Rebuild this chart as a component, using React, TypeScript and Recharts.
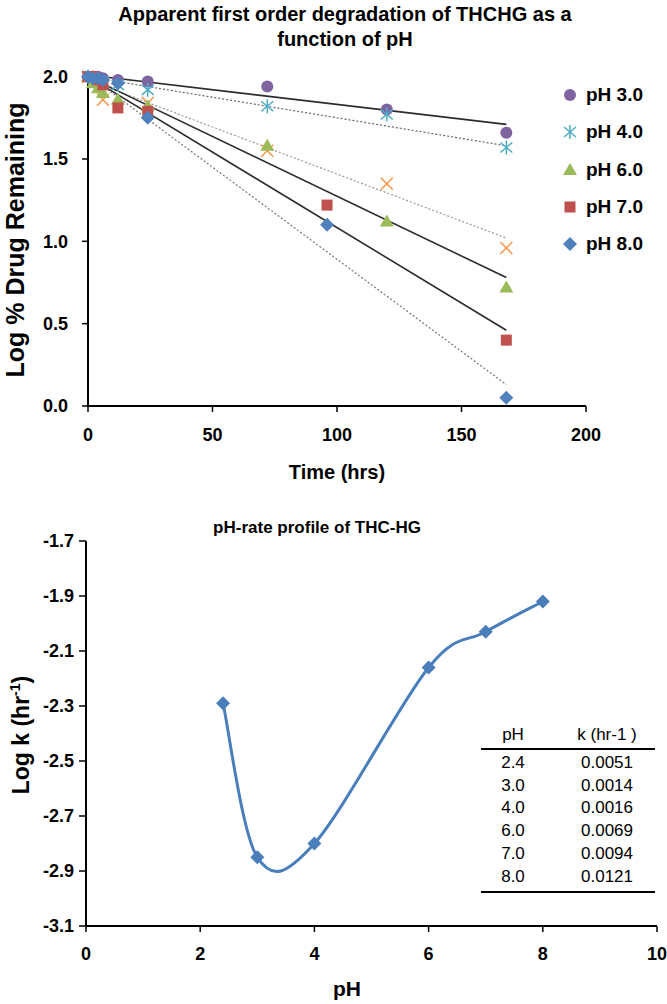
import React from 'react';
import { ComposedChart, LineChart, Line, Scatter, XAxis, YAxis } from 'recharts';

// ---- top chart: log % remaining vs time ----
const TIMES_MAIN = [0, 2, 4, 6, 12, 24, 72, 120, 168];
const TIMES_PH78 = [0, 2, 4, 6, 12, 24, 96, 168];
const TIMES_PH24 = [0, 6, 24, 72, 120, 168];

const LOG_PH24 = [2.0, 1.86, 1.84, 1.55, 1.35, 0.96];
const LOG_PH3 = [2.0, 2.0, 2.0, 1.99, 1.98, 1.97, 1.94, 1.8, 1.66];
const LOG_PH4 = [2.0, 1.99, 1.98, 1.97, 1.95, 1.92, 1.82, 1.77, 1.57];
const LOG_PH6 = [2.0, 1.96, 1.93, 1.9, 1.86, 1.82, 1.58, 1.12, 0.72];
const LOG_PH7 = [2.0, 2.0, 1.98, 1.95, 1.81, 1.79, 1.22, 0.4];
const LOG_PH8 = [2.0, 1.99, 1.99, 1.98, 1.96, 1.75, 1.1, 0.05];

// fitted first order lines, value at t=0 and t=168
const FIT_TIMES = [0, 168];
const FIT_PH3 = [2.01, 1.71];
const FIT_PH4 = [2.0, 1.58];
const FIT_PH24 = [1.98, 1.02];
const FIT_PH6 = [2.0, 0.78];
const FIT_PH7 = [2.0, 0.46];
const FIT_PH8 = [2.01, 0.13];

const TIME_TICKS = [0, 50, 100, 150, 200];
const LOG_TICKS = [0, 0.5, 1.0, 1.5, 2.0];

// ---- bottom chart: pH-rate profile ----
const PH_VALUES = [2.4, 3.0, 4.0, 6.0, 7.0, 8.0];
const LOG_K = [-2.29, -2.85, -2.8, -2.16, -2.03, -1.92];
const PH_TICKS = [0, 2, 4, 6, 8, 10];
const LOGK_TICKS = [-3.1, -2.9, -2.7, -2.5, -2.3, -2.1, -1.9, -1.7];

const TABLE_PH = ['2.4', '3.0', '4.0', '6.0', '7.0', '8.0'];
const TABLE_K = ['0.0051', '0.0014', '0.0016', '0.0069', '0.0094', '0.0121'];

const FONT = '"Liberation Sans", Arial, sans-serif';

const toPoints = (xs: number[], ys: number[]) => xs.map((t, i) => ({ t, v: ys[i] }));

const SERIES = [
  { name: 'pH 2.4', times: TIMES_PH24, values: LOG_PH24, kind: 'x', color: '#F79646', legend: false },
  { name: 'pH 3.0', times: TIMES_MAIN, values: LOG_PH3, kind: 'circle', color: '#8064A2', legend: true },
  { name: 'pH 4.0', times: TIMES_MAIN, values: LOG_PH4, kind: 'star', color: '#4BACC6', legend: true },
  { name: 'pH 6.0', times: TIMES_MAIN, values: LOG_PH6, kind: 'triangle', color: '#9BBB59', legend: true },
  { name: 'pH 7.0', times: TIMES_PH78, values: LOG_PH7, kind: 'square', color: '#C0504D', legend: true },
  { name: 'pH 8.0', times: TIMES_PH78, values: LOG_PH8, kind: 'diamond', color: '#4F81BD', legend: true },
];

const FITS = [
  { name: 'fit3', values: FIT_PH3, color: '#2b2b2b', dash: undefined },
  { name: 'fit4', values: FIT_PH4, color: '#666', dash: '2 2' },
  { name: 'fit24', values: FIT_PH24, color: '#999', dash: '2 2' },
  { name: 'fit6', values: FIT_PH6, color: '#2b2b2b', dash: undefined },
  { name: 'fit7', values: FIT_PH7, color: '#2b2b2b', dash: undefined },
  { name: 'fit8', values: FIT_PH8, color: '#777', dash: '2 2' },
];

function Marker({ kind, color, cx, cy }: { kind: string; color: string; cx: number; cy: number }) {
  switch (kind) {
    case 'circle':
      return <circle cx={cx} cy={cy} r={6} fill={color} />;
    case 'triangle':
      return <polygon points={`${cx},${cy - 7} ${cx + 7},${cy + 5} ${cx - 7},${cy + 5}`} fill={color} />;
    case 'square':
      return <rect x={cx - 5.5} y={cy - 5.5} width={11} height={11} fill={color} />;
    case 'diamond':
      return <polygon points={`${cx},${cy - 7} ${cx + 7},${cy} ${cx},${cy + 7} ${cx - 7},${cy}`} fill={color} />;
    case 'star':
      return (
        <g stroke={color} strokeWidth={1.5}>
          <line x1={cx} y1={cy - 7} x2={cx} y2={cy + 7} />
          <line x1={cx - 6} y1={cy - 5} x2={cx + 6} y2={cy + 5} />
          <line x1={cx - 6} y1={cy + 5} x2={cx + 6} y2={cy - 5} />
        </g>
      );
    default:
      return (
        <g stroke={color} strokeWidth={1.5}>
          <line x1={cx - 6} y1={cy - 6} x2={cx + 6} y2={cy + 6} />
          <line x1={cx - 6} y1={cy + 6} x2={cx + 6} y2={cy - 6} />
        </g>
      );
  }
}

// Excel-like smoothed line (bezier through points, 1/6 tangents)
const excelSmooth: any = (context: any) => {
  let pts: number[][] = [];
  return {
    areaStart() {},
    areaEnd() {},
    lineStart() { pts = []; },
    point(x: number, y: number) { pts.push([+x, +y]); },
    lineEnd() {
      if (!pts.length) return;
      context.moveTo(pts[0][0], pts[0][1]);
      for (let i = 0; i < pts.length - 1; i++) {
        const p0 = pts[i - 1] || pts[i];
        const p1 = pts[i];
        const p2 = pts[i + 1];
        const p3 = pts[i + 2] || p2;
        context.bezierCurveTo(
          p1[0] + (p2[0] - p0[0]) / 6, p1[1] + (p2[1] - p0[1]) / 6,
          p2[0] - (p3[0] - p1[0]) / 6, p2[1] - (p3[1] - p1[1]) / 6,
          p2[0], p2[1]
        );
      }
    },
  };
};

const tickStyle = { fill: '#000', fontSize: 18, fontWeight: 700, fontFamily: FONT };
const axisLine = { stroke: '#000', strokeWidth: 2 };
const tickLine = { stroke: '#000', strokeWidth: 1.5 };

const bold = (size: number): React.CSSProperties => ({
  position: 'absolute', fontFamily: FONT, fontWeight: 700, fontSize: size, color: '#000', whiteSpace: 'nowrap',
});

export default function App() {
  const pHData = PH_VALUES.map((ph, i) => ({ ph, logk: LOG_K[i] }));

  return (
    <div style={{ position: 'absolute', left: 0, top: 0, width: 667, height: 1004, background: '#fff', overflow: 'hidden' }}>
      {/* ---------- top chart ---------- */}
      <div style={{ ...bold(20), left: 45, width: 600, top: 2, lineHeight: '25px', textAlign: 'center', whiteSpace: 'normal' }}>
        Apparent first order degradation of THCHG as a<br />function of pH
      </div>
      <div style={{ position: 'absolute', left: 0, top: 0 }}>
        <ComposedChart width={667} height={500} margin={{ top: 75, right: 81, bottom: 54, left: 0 }}>
          <XAxis
            type="number"
            dataKey="t"
            domain={[0, 200]}
            ticks={TIME_TICKS}
            tick={tickStyle}
            axisLine={axisLine}
            tickLine={tickLine}
            tickSize={6}
            tickMargin={16}
            height={40}
          />
          <YAxis
            type="number"
            dataKey="v"
            domain={[0, 2]}
            ticks={LOG_TICKS}
            tickFormatter={(v: number) => v.toFixed(1)}
            tick={tickStyle}
            axisLine={axisLine}
            tickLine={tickLine}
            tickSize={6}
            tickMargin={14}
            width={88}
          />
          {SERIES.map((s) => (
            <Scatter
              key={s.name}
              name={s.name}
              data={toPoints(s.times, s.values)}
              dataKey="v"
              isAnimationActive={false}
              shape={(p: any) => <Marker kind={s.kind} color={s.color} cx={p.cx} cy={p.cy} />}
            />
          ))}
          {FITS.map((f) => (
            <Line
              key={f.name}
              data={toPoints(FIT_TIMES, f.values)}
              dataKey="v"
              type="linear"
              stroke={f.color}
              strokeWidth={f.dash ? 1.2 : 1.6}
              strokeDasharray={f.dash}
              dot={false}
              activeDot={false}
              legendType="none"
              isAnimationActive={false}
            />
          ))}
        </ComposedChart>
      </div>
      <div style={{ ...bold(25), left: 15 - 200, width: 400, top: 240 - 15, height: 30, lineHeight: '30px', textAlign: 'center', transform: 'rotate(-90deg)' }}>
        Log % Drug Remaining
      </div>
      <div style={{ ...bold(20), left: 237, width: 200, top: 460, lineHeight: '24px', textAlign: 'center' }}>
        Time (hrs)
      </div>
      {/* legend */}
      {SERIES.filter((s) => s.legend).map((s, i) => (
        <div key={s.name} style={{ ...bold(19), left: 560, top: 95 + i * 37.3 - 12, height: 24, lineHeight: '24px', display: 'flex', alignItems: 'center' }}>
          <svg width={22} height={20} style={{ marginRight: 4 }}>
            <Marker kind={s.kind} color={s.color} cx={10} cy={10} />
          </svg>
          {s.name}
        </div>
      ))}

      {/* ---------- bottom chart ---------- */}
      <div style={{ ...bold(17), left: 117, width: 400, top: 517, lineHeight: '22px', textAlign: 'center' }}>
        pH-rate profile of THC-HG
      </div>
      <div style={{ position: 'absolute', left: 0, top: 500 }}>
        <LineChart width={667} height={504} data={pHData} margin={{ top: 41, right: 10, bottom: 38, left: 0 }}>
          <XAxis
            type="number"
            dataKey="ph"
            domain={[0, 10]}
            ticks={PH_TICKS}
            tick={tickStyle}
            axisLine={axisLine}
            tickLine={tickLine}
            tickSize={6}
            tickMargin={15}
            height={40}
          />
          <YAxis
            type="number"
            domain={[-3.1, -1.7]}
            ticks={LOGK_TICKS}
            tickFormatter={(v: number) => v.toFixed(1)}
            tick={tickStyle}
            axisLine={axisLine}
            tickLine={tickLine}
            tickSize={7}
            tickMargin={5}
            width={86}
          />
          <Line
            dataKey="logk"
            type={excelSmooth}
            stroke="#4A7EBB"
            strokeWidth={3}
            dot={(p: any) => <Marker key={p.index} kind="diamond" color="#4A7EBB" cx={p.cx} cy={p.cy} />}
            activeDot={false}
            isAnimationActive={false}
          />
        </LineChart>
      </div>
      <div style={{ ...bold(23), left: 15 - 150, width: 300, top: 735 - 15, height: 30, lineHeight: '30px', textAlign: 'center', transform: 'rotate(-90deg)' }}>
        Log k (hr<sup style={{ fontSize: 14 }}>-1</sup>)
      </div>
      <div style={{ ...bold(21), left: 297, width: 100, top: 976, lineHeight: '26px', textAlign: 'center' }}>
        pH
      </div>
      {/* table */}
      <div style={{ position: 'absolute', left: 481, top: 748, width: 174, height: 0, borderTop: '2px solid #000' }} />
      <div style={{ position: 'absolute', left: 481, top: 891, width: 174, height: 0, borderTop: '2px solid #000' }} />
      <div style={{ position: 'absolute', left: 473, width: 80, top: 725, fontFamily: FONT, fontSize: 17, lineHeight: '20px', textAlign: 'center' }}>pH</div>
      <div style={{ position: 'absolute', left: 557, width: 100, top: 725, fontFamily: FONT, fontSize: 17, lineHeight: '20px', textAlign: 'center' }}>k (hr-1 )</div>
      {TABLE_PH.map((ph, i) => (
        <React.Fragment key={ph}>
          <div style={{ position: 'absolute', left: 473, width: 80, top: 753 + i * 22.7, fontFamily: FONT, fontSize: 17, lineHeight: '20px', textAlign: 'center' }}>{ph}</div>
          <div style={{ position: 'absolute', left: 557, width: 100, top: 753 + i * 22.7, fontFamily: FONT, fontSize: 17, lineHeight: '20px', textAlign: 'center' }}>{TABLE_K[i]}</div>
        </React.Fragment>
      ))}
    </div>
  );
}
